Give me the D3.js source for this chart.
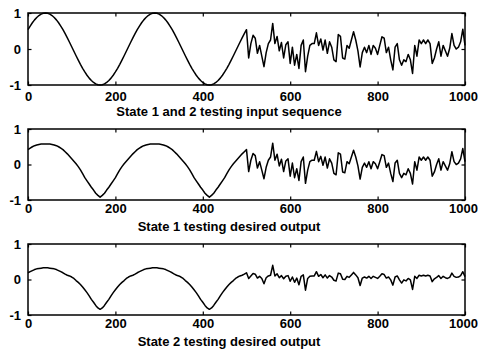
<!DOCTYPE html>
<html>
<head>
<meta charset="utf-8">
<script src="https://cdn.jsdelivr.net/npm/d3@7"></script>
<style>
  html, body { margin: 0; padding: 0; background: #fff; }
  svg { display: block; }
  text { font-family: "Liberation Sans", Arial, sans-serif; font-weight: bold; fill: #000; }
</style>
</head>
<body>
<svg id="chart" width="478" height="351"></svg>
<script>
// ---------- data ----------
const xTicks = [0, 200, 400, 600, 800, 1000];
const yTicks = [-1, 0, 1];
const titles = [
  "State 1 and 2 testing input sequence",
  "State 1 testing desired output",
  "State 2 testing desired output"
];
// samples every 5 time steps, 0..1000
const sampleStep = 5;

const inputSeq = [
  0.536, 0.637, 0.729, 0.809, 0.876, 0.930, 0.969, 0.992, 1.000, 0.992,
  0.969, 0.930, 0.876, 0.809, 0.729, 0.637, 0.536, 0.426, 0.309, 0.187,
  0.063, -0.063, -0.187, -0.309, -0.426, -0.536, -0.637, -0.729, -0.809, -0.876,
  -0.930, -0.969, -0.992, -1.000, -0.992, -0.969, -0.930, -0.876, -0.809, -0.729,
  -0.637, -0.536, -0.426, -0.309, -0.187, -0.063, 0.063, 0.187, 0.309, 0.426,
  0.536, 0.637, 0.729, 0.809, 0.876, 0.930, 0.969, 0.992, 1.000, 0.992,
  0.969, 0.930, 0.876, 0.809, 0.729, 0.637, 0.536, 0.426, 0.309, 0.187,
  0.063, -0.063, -0.187, -0.309, -0.426, -0.536, -0.637, -0.729, -0.809, -0.876,
  -0.930, -0.969, -0.992, -1.000, -0.992, -0.969, -0.930, -0.876, -0.809, -0.729,
  -0.637, -0.536, -0.426, -0.309, -0.187, -0.063, 0.063, 0.187, 0.309, 0.426,
  0.536,
  -0.25, 0.15, 0.38, 0.30, -0.12, 0.10, -0.20, -0.49, -0.10, 0.15,
  0.25, 0.71, 0.15, 0.35, -0.05, 0.18, -0.25, 0.12, 0.20, -0.40,
  0.05, -0.45, -0.15, -0.54, 0.10, 0.25, -0.63, -0.20, 0.10, 0.15,
  0.15, 0.45, 0.10, 0.28, -0.03, 0.25, -0.12, 0.20, 0.05, -0.30,
  -0.35, 0.40, 0.35, -0.25, -0.28, 0.10, 0.02, 0.25, 0.48, 0.25,
  -0.05, -0.50, -0.10, 0.05, -0.10, 0.10, -0.15, 0.10, 0.02, -0.15,
  0.10, 0.34, 0.30, -0.10, 0.05, -0.30, -0.58, 0.05, 0.15, -0.30,
  -0.45, -0.30, -0.35, -0.15, -0.30, -0.68, 0.10, -0.20, 0.25, 0.15,
  0.25, 0.15, 0.25, 0.15, -0.40, -0.25, 0.00, 0.20, -0.20, 0.10,
  -0.05, -0.20, 0.02, 0.43, 0.10, 0.00, 0.05, 0.20, 0.55, 0.10
];

const state1Out = [
  0.42, 0.46, 0.50, 0.53, 0.55, 0.565, 0.575, 0.58, 0.58, 0.58,
  0.575, 0.565, 0.55, 0.53, 0.50, 0.46, 0.42, 0.36, 0.30, 0.23,
  0.16, 0.09, 0.02, -0.06, -0.15, -0.26, -0.37, -0.46, -0.55, -0.64,
  -0.72, -0.81, -0.87, -0.92, -0.87, -0.81, -0.72, -0.64, -0.55, -0.46,
  -0.37, -0.26, -0.15, -0.06, 0.02, 0.09, 0.16, 0.23, 0.30, 0.36,
  0.42, 0.46, 0.50, 0.53, 0.55, 0.565, 0.575, 0.58, 0.58, 0.58,
  0.575, 0.565, 0.55, 0.53, 0.50, 0.46, 0.42, 0.36, 0.30, 0.23,
  0.16, 0.09, 0.02, -0.06, -0.15, -0.26, -0.37, -0.46, -0.55, -0.64,
  -0.72, -0.81, -0.87, -0.92, -0.87, -0.81, -0.72, -0.64, -0.55, -0.46,
  -0.37, -0.26, -0.15, -0.06, 0.02, 0.09, 0.16, 0.23, 0.30, 0.36,
  0.42,
  -0.20, 0.12, 0.31, 0.25, -0.10, 0.08, -0.16, -0.40, -0.08, 0.12,
  0.21, 0.60, 0.12, 0.29, -0.04, 0.15, -0.20, 0.10, 0.16, -0.33,
  0.04, -0.37, -0.12, -0.45, 0.08, 0.21, -0.53, -0.16, 0.08, 0.12,
  0.12, 0.37, 0.08, 0.23, -0.02, 0.21, -0.10, 0.16, 0.04, -0.25,
  -0.29, 0.33, 0.29, -0.21, -0.23, 0.08, 0.02, 0.21, 0.40, 0.21,
  -0.04, -0.41, -0.08, 0.04, -0.08, 0.08, -0.12, 0.08, 0.02, -0.12,
  0.08, 0.28, 0.25, -0.08, 0.04, -0.25, -0.48, 0.04, 0.12, -0.25,
  -0.37, -0.25, -0.29, -0.12, -0.25, -0.55, 0.08, -0.16, 0.21, 0.12,
  0.21, 0.12, 0.21, 0.12, -0.33, -0.21, 0.00, 0.16, -0.16, 0.08,
  -0.04, -0.16, 0.02, 0.36, 0.08, 0.00, 0.04, 0.16, 0.45, 0.08
];

const state2Out = [
  0.19, 0.22, 0.25, 0.28, 0.30, 0.31, 0.32, 0.33, 0.33, 0.33,
  0.32, 0.31, 0.30, 0.28, 0.25, 0.22, 0.19, 0.15, 0.12, 0.10,
  0.07, 0.03, -0.03, -0.08, -0.14, -0.21, -0.29, -0.37, -0.46, -0.56,
  -0.64, -0.73, -0.80, -0.84, -0.80, -0.73, -0.64, -0.56, -0.46, -0.37,
  -0.29, -0.21, -0.14, -0.08, -0.03, 0.03, 0.07, 0.10, 0.12, 0.15,
  0.19, 0.22, 0.25, 0.28, 0.30, 0.31, 0.32, 0.33, 0.33, 0.33,
  0.32, 0.31, 0.30, 0.28, 0.25, 0.22, 0.19, 0.15, 0.12, 0.10,
  0.07, 0.03, -0.03, -0.08, -0.14, -0.21, -0.29, -0.37, -0.46, -0.56,
  -0.64, -0.73, -0.80, -0.84, -0.80, -0.73, -0.64, -0.56, -0.46, -0.37,
  -0.29, -0.21, -0.14, -0.08, -0.03, 0.03, 0.07, 0.10, 0.12, 0.15,
  0.19,
  0.03, 0.10, 0.17, 0.15, 0.04, 0.09, 0.03, -0.12, 0.05, 0.10,
  0.12, 0.40, 0.10, 0.16, 0.05, 0.11, 0.02, 0.09, 0.11, -0.05,
  0.07, -0.08, 0.04, -0.15, 0.09, 0.13, -0.30, 0.03, 0.09, 0.10,
  0.10, 0.22, 0.09, 0.14, 0.05, 0.13, 0.04, 0.11, 0.07, -0.02,
  -0.04, 0.18, 0.16, 0.01, 0.00, 0.09, 0.06, 0.13, 0.20, 0.13,
  0.05, -0.17, 0.04, 0.07, 0.04, 0.09, 0.03, 0.09, 0.06, 0.03,
  0.09, 0.16, 0.14, 0.04, 0.07, -0.01, -0.16, 0.07, 0.10, -0.01,
  -0.10, -0.01, -0.04, 0.03, -0.01, -0.28, 0.09, 0.03, 0.12, 0.10,
  0.12, 0.10, 0.12, 0.10, -0.06, 0.02, 0.06, 0.11, 0.03, 0.09,
  0.05, 0.03, 0.06, 0.18, 0.09, 0.06, 0.07, 0.11, 0.22, 0.08
];

const seriesList = [inputSeq, state1Out, state2Out];

// ---------- layout ----------
const panels = [
  { top: 13,  bottom: 85,  labPad: 7, titleY: 116 },
  { top: 129, bottom: 200, labPad: 4, titleY: 231 },
  { top: 244, bottom: 315, labPad: 4, titleY: 346 }
];
const left = 28, right = 465, titleX = 229;

const svg = d3.select("#chart");
const x = d3.scaleLinear().domain([0, 1000]).range([left, right]);

panels.forEach((p, i) => {
  const y = d3.scaleLinear().domain([-1, 1]).range([p.bottom, p.top]);
  const g = svg.append("g");
  const data = seriesList[i].map((v, k) => [k * sampleStep, v]);

  const line = d3.line().x(d => x(d[0])).y(d => y(d[1]));
  g.append("path")
    .datum(data)
    .attr("fill", "none")
    .attr("stroke", "#000")
    .attr("stroke-width", 1.5)
    .attr("stroke-linejoin", "round")
    .attr("d", line);

  // axes
  const ax = (gen, tx, ty, labels, pad) => {
    const a = g.append("g").attr("transform", `translate(${tx},${ty})`)
      .call(gen.tickSize(-3.5).tickPadding(pad));
    a.select(".domain").remove();
    a.selectAll(".tick line").attr("stroke", "#000").attr("stroke-width", 1.2);
    a.selectAll("text").style("font-size", "13px").style("font-weight", "bold")
      .style("font-family", '"Liberation Sans", Arial, sans-serif');
    if (!labels) a.selectAll("text").remove();
    return a;
  };
  const bx = ax(d3.axisBottom(x).tickValues(xTicks).tickFormat(d3.format("d")), 0, p.bottom, true, p.labPad);
  // keep the last label ("1000") inside the picture
  bx.selectAll(".tick text").filter(d => d === xTicks[xTicks.length - 1])
    .attr("text-anchor", "end").attr("x", 478 - right - 0.5);
  ax(d3.axisTop(x).tickValues(xTicks), 0, p.top, false, 0);
  ax(d3.axisLeft(y).tickValues(yTicks).tickFormat(d => d < 0 ? "-" + Math.abs(d) : String(d)), left, 0, true, 7);
  ax(d3.axisRight(y).tickValues(yTicks), right, 0, false, 0);

  g.append("rect")
    .attr("x", left).attr("y", p.top)
    .attr("width", right - left).attr("height", p.bottom - p.top)
    .attr("fill", "none").attr("stroke", "#000").attr("stroke-width", 1.5);

  g.append("text")
    .attr("x", titleX).attr("y", p.titleY)
    .attr("text-anchor", "middle")
    .style("font-size", "13px")
    .text(titles[i]);
});
</script>
</body>
</html>
